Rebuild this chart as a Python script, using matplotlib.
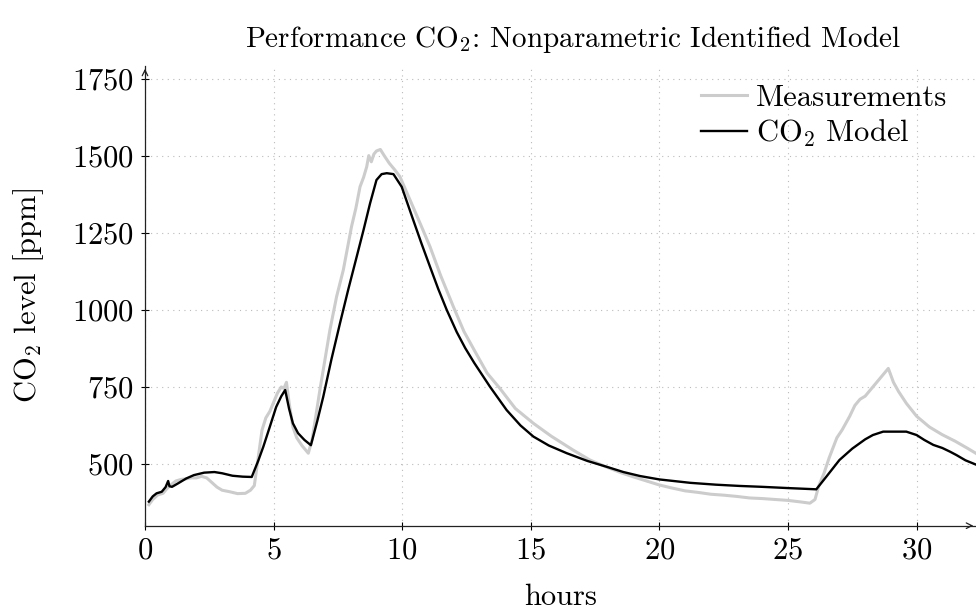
import numpy as np
import matplotlib
matplotlib.use("Agg")
import matplotlib.pyplot as plt

plt.rcParams['font.family'] = 'serif'
plt.rcParams['font.serif'] = ['cmr10']
plt.rcParams['mathtext.fontset'] = 'cm'
plt.rcParams['axes.formatter.use_mathtext'] = True

meas_t = [0.15, 0.3, 0.5, 0.7, 0.85, 1.0, 1.2, 1.4, 1.6, 1.8, 2.0, 2.2, 2.4, 2.6, 2.8,
          3.0, 3.3, 3.6, 3.9, 4.1, 4.25, 4.4, 4.55, 4.7, 4.85, 5.0, 5.15, 5.3, 5.4, 5.5,
          5.6, 5.75, 5.9, 6.1, 6.35, 6.5, 6.8, 7.0, 7.19, 7.45, 7.71, 8.03, 8.2,
          8.36, 8.5, 8.62, 8.7, 8.8, 8.9, 9.0, 9.15, 9.3, 9.5, 9.7, 9.91, 10.42,
          10.75, 11.08, 11.5, 11.99, 12.4, 12.83, 13.3, 13.8, 14.4, 15.1, 15.8, 16.65,
          17.3, 17.95, 18.5, 19.0, 19.5, 20.0, 20.5, 21.0, 21.5, 22.0, 22.5,
          23.0, 23.5, 24.0, 24.5, 25.0, 25.5, 25.85, 26.05, 26.2, 26.4, 26.6, 26.9,
          27.1, 27.4, 27.6, 27.8, 28.0, 28.3, 28.6, 28.9, 29.1, 29.3, 29.6, 30.0, 30.5,
          31.0, 31.5, 32.0, 32.4]
meas_v = [368, 385, 400, 405, 420, 432, 445, 450, 452, 455, 455, 460, 455, 440, 425,
          415, 410, 404, 405, 415, 430, 520, 610, 650, 670, 700, 730, 750, 745, 765,
          700, 620, 585, 560, 535, 580, 740, 840, 935, 1043, 1129, 1270, 1330,
          1399, 1430, 1464, 1500, 1480, 1505, 1515, 1520, 1500, 1475, 1455, 1432, 1334,
          1270, 1205, 1110, 1010, 930, 865, 795, 745, 680, 632, 590, 545,
          513, 490, 472, 458, 445, 432, 422, 413, 408, 402, 399,
          395, 390, 388, 385, 382, 377, 373, 385, 430, 470, 520, 585,
          610, 655, 690, 710, 720, 750, 780, 810, 765, 735, 697, 655, 620,
          595, 574, 550, 530]

# identified model output
model_t = [0.15, 0.3, 0.45, 0.65, 0.8, 0.9, 0.95, 1.05, 1.3, 1.6, 1.9, 2.3, 2.7, 3.0,
           3.4, 3.8, 4.15, 4.4, 4.6, 4.85, 5.1, 5.3, 5.45, 5.6, 5.75, 5.95, 6.2, 6.45,
           6.7, 6.93, 7.25, 7.58, 7.9, 8.23, 8.5, 8.75, 9.0, 9.2, 9.4, 9.66, 9.98,
           10.43, 10.75, 11.08, 11.4, 11.73, 12.12, 12.45, 12.8, 13.41, 14.06, 14.6,
           15.1, 15.7, 16.4, 17.2, 17.95, 18.6, 19.25, 20.0, 21.2, 22.2, 23.1, 24.0, 25.0,
           26.1, 26.5, 27.0, 27.5, 28.0, 28.3, 28.7, 29.1, 29.6, 30.0, 30.3, 30.65,
           31.0, 31.3, 31.55, 31.9, 32.4]
model_v = [378, 395, 405, 410, 425, 445, 428, 426, 438, 453, 464, 472, 474, 470,
           462, 459, 458, 510, 556, 620, 685, 720, 740, 680, 632, 600, 578, 561,
           640, 718, 840, 956, 1065, 1172, 1260, 1345, 1421, 1440, 1443, 1440, 1399,
           1291, 1215, 1140, 1068, 1000, 928, 876, 828, 751, 675, 625,
           589, 560, 535, 510, 491, 474, 461, 450, 439, 433, 429, 426, 422,
           418, 460, 513, 550, 580, 594, 605, 605, 605, 594, 578, 562,
           552, 540, 529, 512, 495]

fig = plt.figure(figsize=(9.76, 6.11), dpi=100)
ax = fig.add_axes([145/976, 1-525.7/611, (976-145)/976, (525.7-66)/611])

ax.plot(meas_t, meas_v, color='#cccccc', lw=2.2, label='Measurements')
ax.plot(model_t, model_v, color='black', lw=1.7, label='CO$_2$ Model')

ax.set_xlim(0, (976-145)/25.72)
ax.set_ylim(300, 300 + (525.7-66)/0.3084)
ax.set_xticks([0, 5, 10, 15, 20, 25, 30])
ax.set_yticks([500, 750, 1000, 1250, 1500, 1750])
ax.grid(True, ls=(0, (1, 4)), color='#bbbbbb', lw=0.8)

for s in ['top', 'right']:
    ax.spines[s].set_visible(False)
for s in ['left', 'bottom']:
    ax.spines[s].set_color('#222222')
    ax.spines[s].set_linewidth(0.9)
ax.tick_params(direction='inout', length=6, width=0.8, labelsize=22, pad=5)

ax.annotate('', xy=(1.0, 0), xytext=(0.99, 0), xycoords='axes fraction',
            arrowprops=dict(arrowstyle='->', lw=0.9, color='#222222'))
ax.annotate('', xy=(0, 1.0), xytext=(0, 0.98), xycoords='axes fraction',
            arrowprops=dict(arrowstyle='->', lw=0.9, color='#222222'))

ax.set_xlabel('hours', fontsize=22, labelpad=14)
ax.set_ylabel('CO$_2$ level [ppm]', fontsize=22, labelpad=19)
ax.set_title('Performance CO$_2$: Nonparametric Identified Model', fontsize=21,
             x=(573-145)/(976-145), pad=14)

ax.legend(loc='upper right', frameon=False, fontsize=22, handlelength=1.5,
          handletextpad=0.3, labelspacing=0.2, borderaxespad=0.0, borderpad=0.0,
          bbox_to_anchor=((947-145)/831, 0.96))

fig.savefig('out.png', dpi=100)
